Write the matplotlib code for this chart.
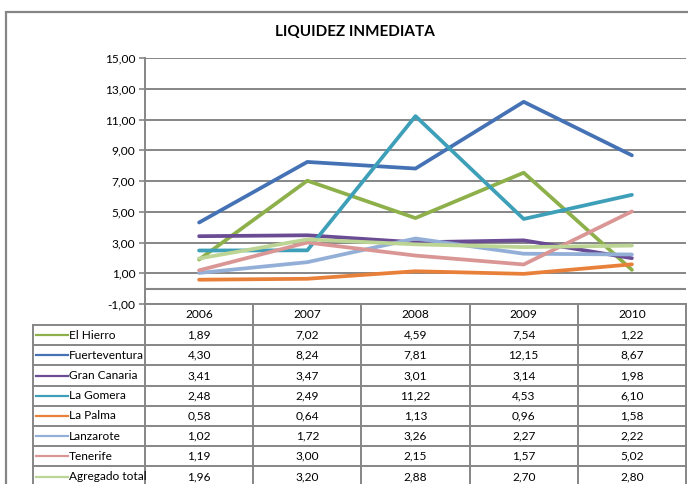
import matplotlib
matplotlib.use("Agg")
import matplotlib.pyplot as plt
from matplotlib.lines import Line2D
from matplotlib.patches import Rectangle

years = ["2006", "2007", "2008", "2009", "2010"]
series_names = ["El Hierro", "Fuerteventura", "Gran Canaria", "La Gomera",
                "La Palma", "Lanzarote", "Tenerife", "Agregado total"]
el_hierro = [1.89, 7.02, 4.59, 7.54, 1.22]
fuerteventura = [4.30, 8.24, 7.81, 12.15, 8.67]
gran_canaria = [3.41, 3.47, 3.01, 3.14, 1.98]
la_gomera = [2.48, 2.49, 11.22, 4.53, 6.10]
la_palma = [0.58, 0.64, 1.13, 0.96, 1.58]
lanzarote = [1.02, 1.72, 3.26, 2.27, 2.22]
tenerife = [1.19, 3.00, 2.15, 1.57, 5.02]
agregado = [1.96, 3.20, 2.88, 2.70, 2.80]
values = [el_hierro, fuerteventura, gran_canaria, la_gomera,
          la_palma, lanzarote, tenerife, agregado]
colors = ["#8DB04A", "#4472B4", "#6A4C94", "#3E9FB8",
          "#E8803A", "#93AFD8", "#D99694", "#BCD494"]
y_ticks = [-1, 1, 3, 5, 7, 9, 11, 13, 15]

plt.rcParams['font.family'] = ['Lato', 'DejaVu Sans']
FS = 8.6

W, H = 688, 484
fig = plt.figure(figsize=(W / 100, H / 100), dpi=100)

# outer chart border (extends beyond the cropped image)
fig.patches.append(Rectangle((6 / W, 0 - 0.1), 1.2, (H - 12) / H + 0.1,
                             transform=fig.transFigure, fill=False,
                             edgecolor="#868686", linewidth=1.6))

ax_left, ax_right, ax_top, ax_bottom = 145, 686, 58, 304
ax = fig.add_axes([ax_left / W, (H - ax_bottom) / H,
                   (ax_right - ax_left) / W, (ax_bottom - ax_top) / H])

x = list(range(len(years)))
for name, vals, c in zip(series_names, values, colors):
    ax.plot(x, vals, color=c, linewidth=2.7, solid_capstyle="round", zorder=3)

ax.set_xlim(-0.5, len(years) - 0.5)
ax.set_ylim(-1, 15)
ax.set_yticks(y_ticks)
ax.set_yticklabels([f"{v:.2f}".replace(".", ",") for v in y_ticks], fontsize=FS)
ax.set_xticks([])
ax.grid(axis="y", color="#868686", linewidth=1.4)
ax.set_axisbelow(True)
for s in ["top", "right", "bottom"]:
    ax.spines[s].set_visible(False)
ax.spines["left"].set_color("#868686")
ax.spines["left"].set_linewidth(1.4)
ax.tick_params(axis="y", color="#868686", length=4, width=1.2, pad=3)

fig.text(355 / W, 1 - 32 / H, "LIQUIDEZ INMEDIATA", ha="center", va="center",
         fontsize=11, fontweight="bold")

# horizontal category axis crossing at zero
ax.axhline(0, color="#868686", linewidth=1.5, zorder=2.5)

# data table below the axis
pxw = ax_right - ax_left
pxh = ax_bottom - ax_top


def axx(px):
    return (px - ax_left) / pxw


def axy(py):
    return (ax_bottom - py) / pxh


tc = "#868686"
lw = 1.4
col_edges = [ax_left + i * pxw / len(years) for i in range(len(years) + 1)]
row_h = 20.2
header_top = ax_bottom
header_bot = header_top + 21
row_edges = [header_bot + i * row_h for i in range(len(series_names) + 1)]
label_left = 33

kw = dict(transform=ax.transAxes, clip_on=False, color=tc, linewidth=lw)
# horizontal lines
ax.add_line(Line2D([axx(ax_left), axx(ax_right)], [axy(header_top)] * 2, **kw))
for ry in row_edges:
    ax.add_line(Line2D([axx(label_left), axx(ax_right)], [axy(ry)] * 2, **kw))
# vertical lines
for cx in col_edges:
    ax.add_line(Line2D([axx(cx)] * 2, [axy(header_top), axy(row_edges[-1])], **kw))
ax.add_line(Line2D([axx(label_left)] * 2, [axy(header_bot), axy(row_edges[-1])], **kw))

# header text
for i, yr in enumerate(years):
    cx = (col_edges[i] + col_edges[i + 1]) / 2
    ax.text(axx(cx), axy((header_top + header_bot) / 2), yr, transform=ax.transAxes,
            ha="center", va="center", fontsize=FS, clip_on=False)

# rows
for r, (name, vals, c) in enumerate(zip(series_names, values, colors)):
    cy = axy((row_edges[r] + row_edges[r + 1]) / 2)
    ax.add_line(Line2D([axx(36), axx(68)], [cy, cy], transform=ax.transAxes,
                       clip_on=False, color=c, linewidth=1.6))
    ax.text(axx(69), cy, name, transform=ax.transAxes, ha="left", va="center",
            fontsize=FS, clip_on=False)
    for i, v in enumerate(vals):
        cx = (col_edges[i] + col_edges[i + 1]) / 2
        ax.text(axx(cx), cy, f"{v:.2f}".replace(".", ","), transform=ax.transAxes,
                ha="center", va="center", fontsize=FS, clip_on=False)

fig.savefig("out.png", dpi=100)
